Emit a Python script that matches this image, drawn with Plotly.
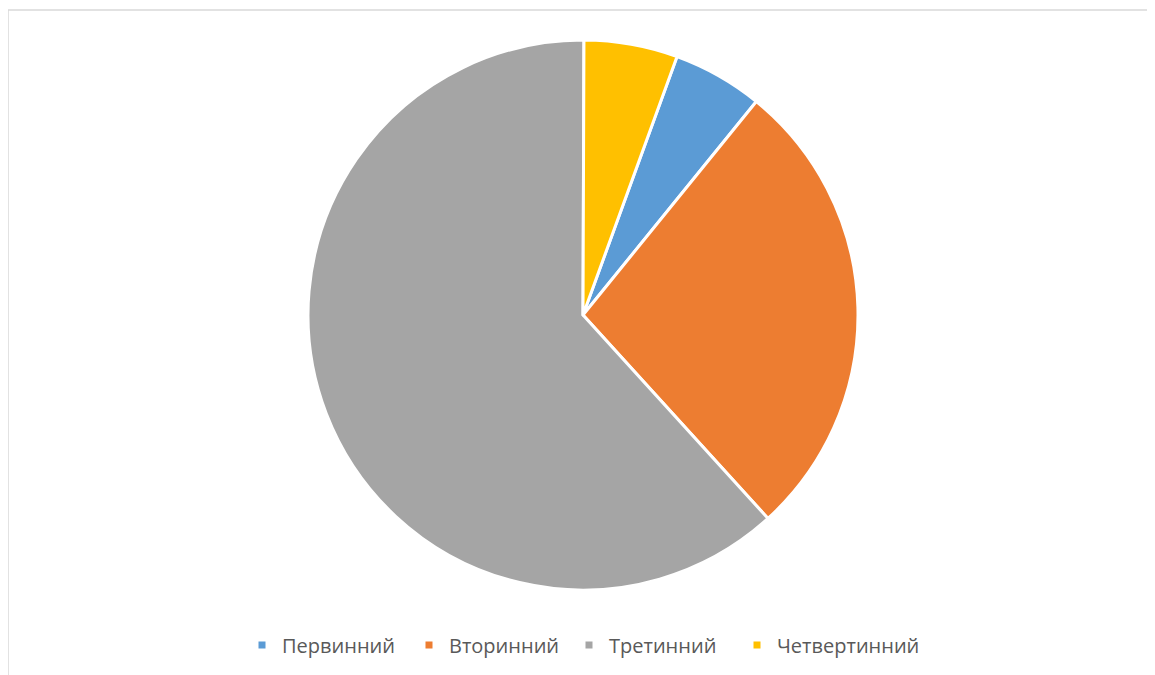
import plotly.graph_objects as go

categories = ["Первинний", "Вторинний", "Третинний", "Четвертинний"]
values = [5.3, 27.4, 61.8, 5.5]
colors = ["#5B9BD5", "#ED7D31", "#A5A5A5", "#FFC000"]

# page offset from browser default body margin
OFF = 8
W, H = 1155 - OFF, 675 - OFF
MT = 2
PW, PH = W, H - MT

cx, cy, r = 583, 315, 275
legend_text_x = [280, 447, 607, 775]
legend_y = 645

def px_x(x):
    return (x - OFF) / PW

def px_y(y):
    return 1 - (y - OFF - MT) / PH

fig = go.Figure()
fig.add_trace(go.Pie(
    labels=categories,
    values=values,
    sort=False,
    direction="clockwise",
    rotation=20,
    marker=dict(colors=colors, line=dict(color="white", width=3)),
    textinfo="none",
    hoverinfo="label+percent",
    showlegend=False,
    domain=dict(x=[px_x(cx - r), px_x(cx + r)], y=[px_y(cy + r), px_y(cy - r)]),
))

legend_layout = {}
for i, (name, col) in enumerate(zip(categories, colors)):
    lname = "legend" if i == 0 else f"legend{i + 1}"
    fig.add_trace(go.Scatter(
        x=[None], y=[None], mode="markers", name=name,
        marker=dict(symbol="square", size=7, color=col),
        showlegend=True, legend=lname,
    ))
    legend_layout[lname] = dict(
        orientation="h",
        x=px_x(legend_text_x[i] - 38), xanchor="left",
        y=px_y(legend_y), yanchor="middle",
        font=dict(family="Open Sans", size=20, color="#595959"),
        bgcolor="rgba(0,0,0,0)",
    )

fig.update_layout(
    width=W, height=H,
    margin=dict(l=0, r=0, t=MT, b=0),
    paper_bgcolor="white",
    plot_bgcolor="white",
    xaxis=dict(visible=False),
    yaxis=dict(visible=False),
    shapes=[dict(
        type="rect", xref="paper", yref="paper",
        x0=0, x1=1.05, y0=-0.05, y1=1,
        line=dict(color="#D9D9D9", width=1.5),
        fillcolor="rgba(0,0,0,0)",
        layer="below",
    )],
    **legend_layout,
)

fig.write_html("out.html")
